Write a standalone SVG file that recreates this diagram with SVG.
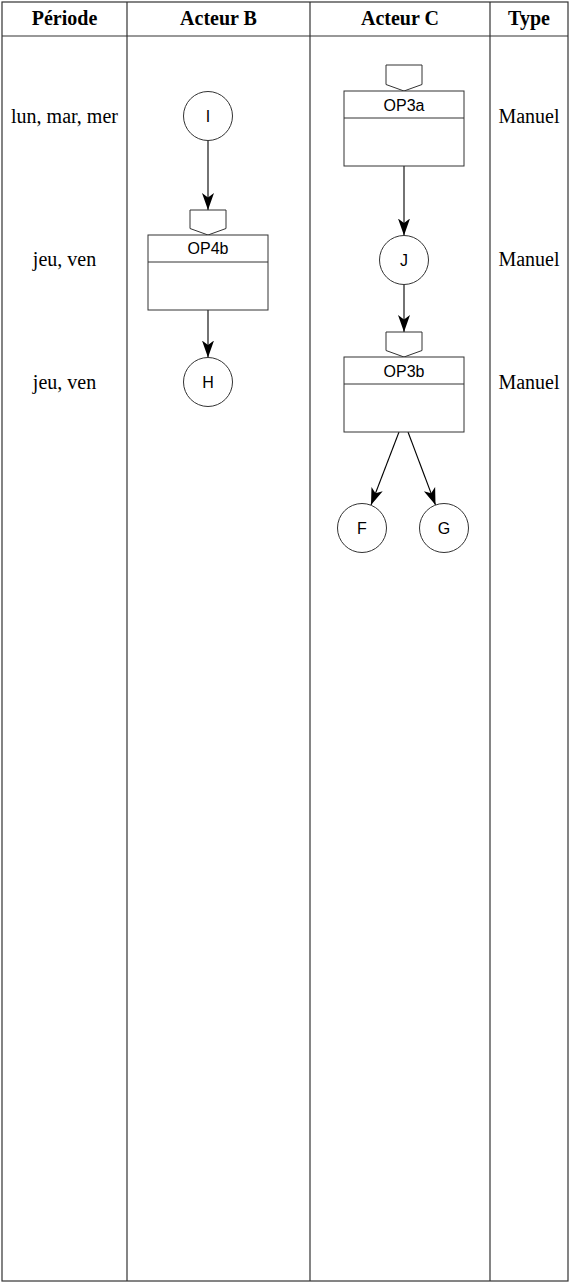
<svg xmlns="http://www.w3.org/2000/svg" width="571" height="1283" viewBox="0 0 571 1283">
<defs>
<style>
.tbl{fill:none;stroke:#333;stroke-width:1.2}
.hd{font-family:"Liberation Serif",serif;font-weight:bold;font-size:20px;text-anchor:middle;fill:#000}
.cell{font-family:"Liberation Serif",serif;font-size:20px;text-anchor:middle;fill:#000}
.nd{fill:#fff;stroke:#333;stroke-width:1}
.lb{font-family:"Liberation Sans",Arial,sans-serif;font-size:16px;text-anchor:middle;fill:#000}
.cn{fill:none;stroke:#000;stroke-width:1.1;marker-end:url(#arr)}
</style>
<marker id="arr" markerUnits="userSpaceOnUse" markerWidth="18" markerHeight="14" viewBox="0 -7 18 14" refX="17" refY="0" orient="auto">
<path d="M0,-6 L17,0 L0,6 L4.5,0 Z" fill="#000"/>
</marker>
</defs>
<rect width="571" height="1283" fill="#fff"/>
<g id="table">
<rect class="tbl" x="2" y="2" width="566" height="1279" stroke-width="1.6"/>
<line class="tbl" x1="2" y1="36" x2="568" y2="36"/>
<line class="tbl" x1="127" y1="2" x2="127" y2="1281"/>
<line class="tbl" x1="310" y1="2" x2="310" y2="1281"/>
<line class="tbl" x1="490" y1="2" x2="490" y2="1281"/>
<text class="hd" x="64.5" y="25">Période</text>
<text class="hd" x="218.5" y="25">Acteur B</text>
<text class="hd" x="400" y="25">Acteur C</text>
<text class="hd" x="529" y="25">Type</text>
<text class="cell" x="64.5" y="123">lun, mar, mer</text>
<text class="cell" x="64.5" y="266">jeu, ven</text>
<text class="cell" x="64.5" y="388.5">jeu, ven</text>
<text class="cell" x="529" y="123">Manuel</text>
<text class="cell" x="529" y="266">Manuel</text>
<text class="cell" x="529" y="388.5">Manuel</text>
</g>
<g id="connectors">
<line class="cn" x1="208" y1="140.5" x2="208" y2="210"/>
<line class="cn" x1="208" y1="310" x2="208" y2="357.5"/>
<line class="cn" x1="404" y1="166" x2="404" y2="235.5"/>
<line class="cn" x1="404" y1="284.5" x2="404" y2="332"/>
<line class="cn" x1="399" y1="432" x2="371" y2="505"/>
<line class="cn" x1="408" y1="432" x2="435.5" y2="505"/>
</g>
<g id="node-I">
<circle class="nd" cx="208" cy="116" r="24.5"/>
<text class="lb" x="208" y="121.5">I</text>
</g>
<g id="node-OP4b">
<polygon class="nd" points="190,210 226,210 226,228.5 208,235 190,228.5"/>
<rect class="nd" x="148" y="235" width="120" height="75"/>
<line class="nd" x1="148" y1="262" x2="268" y2="262"/>
<text class="lb" x="208" y="254">OP4b</text>
</g>
<g id="node-H">
<circle class="nd" cx="208" cy="382" r="24.5"/>
<text class="lb" x="208" y="387.5">H</text>
</g>
<g id="node-OP3a">
<polygon class="nd" points="386,65 422,65 422,84.5 404,91 386,84.5"/>
<rect class="nd" x="344" y="91" width="120" height="75"/>
<line class="nd" x1="344" y1="118" x2="464" y2="118"/>
<text class="lb" x="404" y="110.5">OP3a</text>
</g>
<g id="node-J">
<circle class="nd" cx="404" cy="260" r="24.5"/>
<text class="lb" x="404" y="265.5">J</text>
</g>
<g id="node-OP3b">
<polygon class="nd" points="386,332 422,332 422,350.5 404,357 386,350.5"/>
<rect class="nd" x="344" y="357" width="120" height="75"/>
<line class="nd" x1="344" y1="384" x2="464" y2="384"/>
<text class="lb" x="404" y="376.5">OP3b</text>
</g>
<g id="node-F">
<circle class="nd" cx="362" cy="528" r="24.5"/>
<text class="lb" x="362" y="533.5">F</text>
</g>
<g id="node-G">
<circle class="nd" cx="444" cy="528" r="24.5"/>
<text class="lb" x="444" y="533.5">G</text>
</g>
</svg>
